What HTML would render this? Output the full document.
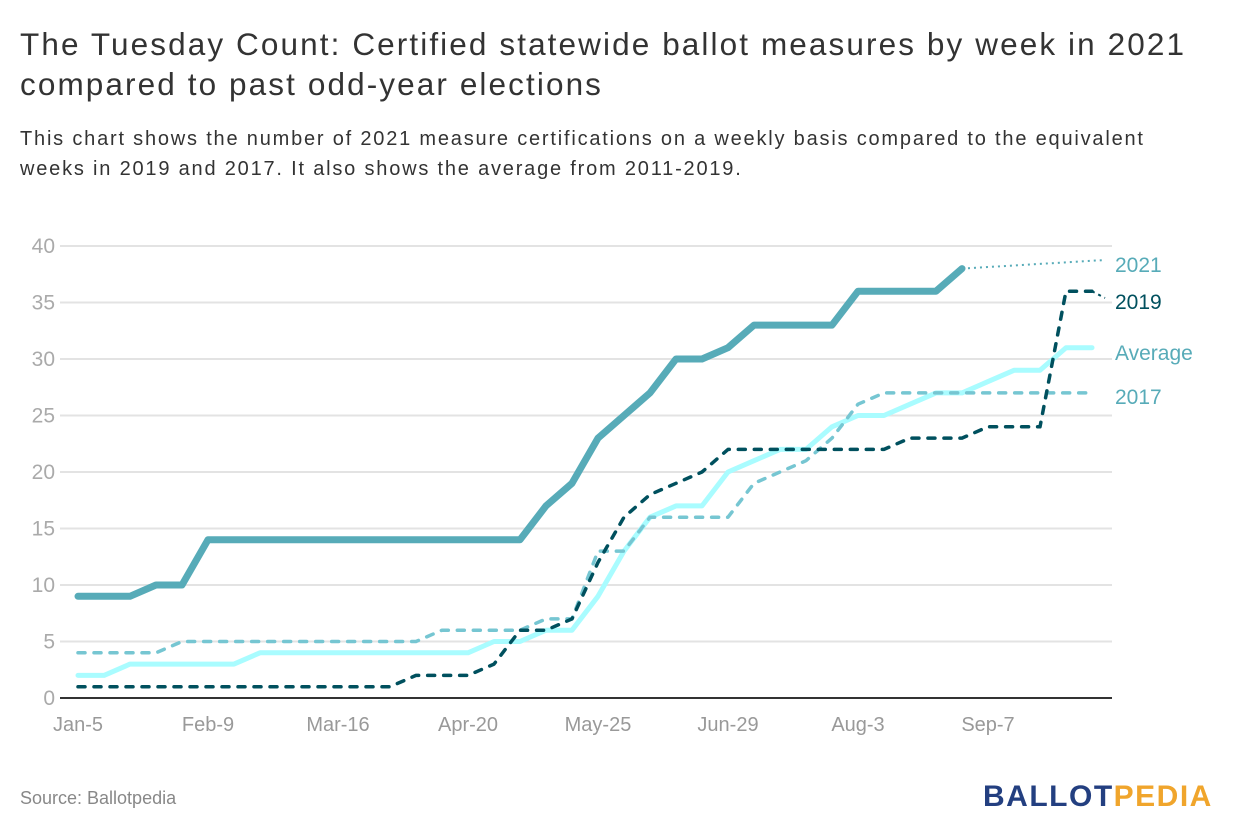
<!DOCTYPE html>
<html><head><meta charset="utf-8"><style>
body{margin:0;background:#fff;width:1240px;height:840px;overflow:hidden;font-family:"Liberation Sans",sans-serif}
#title{position:absolute;left:20px;top:24px;font-size:31.5px;line-height:40px;color:#333;width:1190px;letter-spacing:2.1px}
#sub{position:absolute;left:20px;top:124px;font-size:20px;line-height:30px;color:#333;width:1145px;letter-spacing:1.8px}
#src{position:absolute;left:20px;top:788px;font-size:18px;color:#888}
#logo{position:absolute;left:983px;top:780px;font-size:30px;font-weight:bold;letter-spacing:1.5px}
svg{position:absolute;left:0;top:0}
</style></head><body>
<div id="title">The Tuesday Count: Certified statewide ballot measures by week in 2021 compared to past odd-year elections</div>
<div id="sub">This chart shows the number of 2021 measure certifications on a weekly basis compared to the equivalent weeks in 2019 and 2017. It also shows the average from 2011-2019.</div>
<svg id="chart" width="1240" height="840"></svg>
<div id="src">Source: Ballotpedia</div>
<div id="logo"><span style="color:#233f80">BALLOT</span><span style="color:#f0a52c">PEDIA</span></div>
<script>
const xTickLabels=["Jan-5","Feb-9","Mar-16","Apr-20","May-25","Jun-29","Aug-3","Sep-7"];
const xTickWeeks=[0,5,10,15,20,25,30,35];
const yTicks=[0,5,10,15,20,25,30,35,40];
const s2021=[9,9,9,10,10,14,14,14,14,14,14,14,14,14,14,14,14,14,17,19,23,25,27,30,30,31,33,33,33,33,36,36,36,36,38];
const s2019=[1,1,1,1,1,1,1,1,1,1,1,1,1,2,2,2,3,6,6,7,12,16,18,19,20,22,22,22,22,22,22,22,23,23,23,24,24,24,36,36];
const s2017=[4,4,4,4,5,5,5,5,5,5,5,5,5,5,6,6,6,6,7,7,13,13,16,16,16,16,19,20,21,23,26,27,27,27,27,27,27,27,27,27];
const sAvg=[2,2,3,3,3,3,3,4,4,4,4,4,4,4,4,4,5,5,6,6,9,13,16,17,17,20,21,22,22,24,25,25,26,27,27,28,29,29,31,31];
const NS="http://www.w3.org/2000/svg";
const svg=document.getElementById('chart');
const X=i=>78+26*i, Y=v=>698-v*11.3;
function mk(t,a,p){const e=document.createElementNS(NS,t);for(const k in a)e.setAttribute(k,a[k]);(p||svg).appendChild(e);return e;}
yTicks.forEach(v=>{
  if(v>0){const g=mk('line',{x1:60,x2:1112,y1:Y(v),y2:Y(v),stroke:'#e3e3e3','stroke-width':2});
  
  }
  const t=mk('text',{x:55,y:Y(v)+7,'text-anchor':'end','font-size':21,fill:'#aaa','font-family':'Liberation Sans, sans-serif'});
  t.textContent=v;
  
  
});
const base=mk('line',{x1:60,x2:1112,y1:698,y2:698,stroke:'#333','stroke-width':2});


xTickLabels.forEach((l,i)=>{
  const t=mk('text',{x:X(xTickWeeks[i]),y:731,'text-anchor':'middle','font-size':20,fill:'#999','font-family':'Liberation Sans, sans-serif'});
  t.textContent=l;
  
  
});
function line(arr,color,w,dash,name){
  const d=arr.map((v,i)=>(i?'L':'M')+X(i)+','+Y(v)).join('');
  const a={d:d,fill:'none',stroke:color,'stroke-width':w,'stroke-linejoin':'round','stroke-linecap':'round'};
  if(dash)a['stroke-dasharray']=dash;
  const p=mk('path',a);
  
  
}
line(sAvg,'#a9fcff',5,null,'series-average');
line(s2017,'#76c6d2',3.5,'7 9','series-2017');
line(s2019,'#00505e',3.5,'7 9','series-2019');
line(s2021,'#57abb8',7,null,'series-2021');
const l1=mk('line',{x1:X(s2021.length-1),y1:Y(s2021[s2021.length-1]),x2:1105,y2:260,stroke:'#57abb8','stroke-width':2,'stroke-dasharray':'2 4'});


const l2=mk('line',{x1:X(s2019.length-1),y1:Y(s2019[s2019.length-1]),x2:1105,y2:298,stroke:'#00505e','stroke-width':2,'stroke-dasharray':'3 4'});


[["2021",272,'#57abb8'],["2019",309,'#00505e'],["Average",360,'#57abb8'],["2017",404,'#57abb8']].forEach(r=>{
  const t=mk('text',{x:1115,y:r[1],'font-size':21,fill:r[2],'font-family':'Liberation Sans, sans-serif'});
  t.textContent=r[0];
  
  
});
</script>
</body></html>
